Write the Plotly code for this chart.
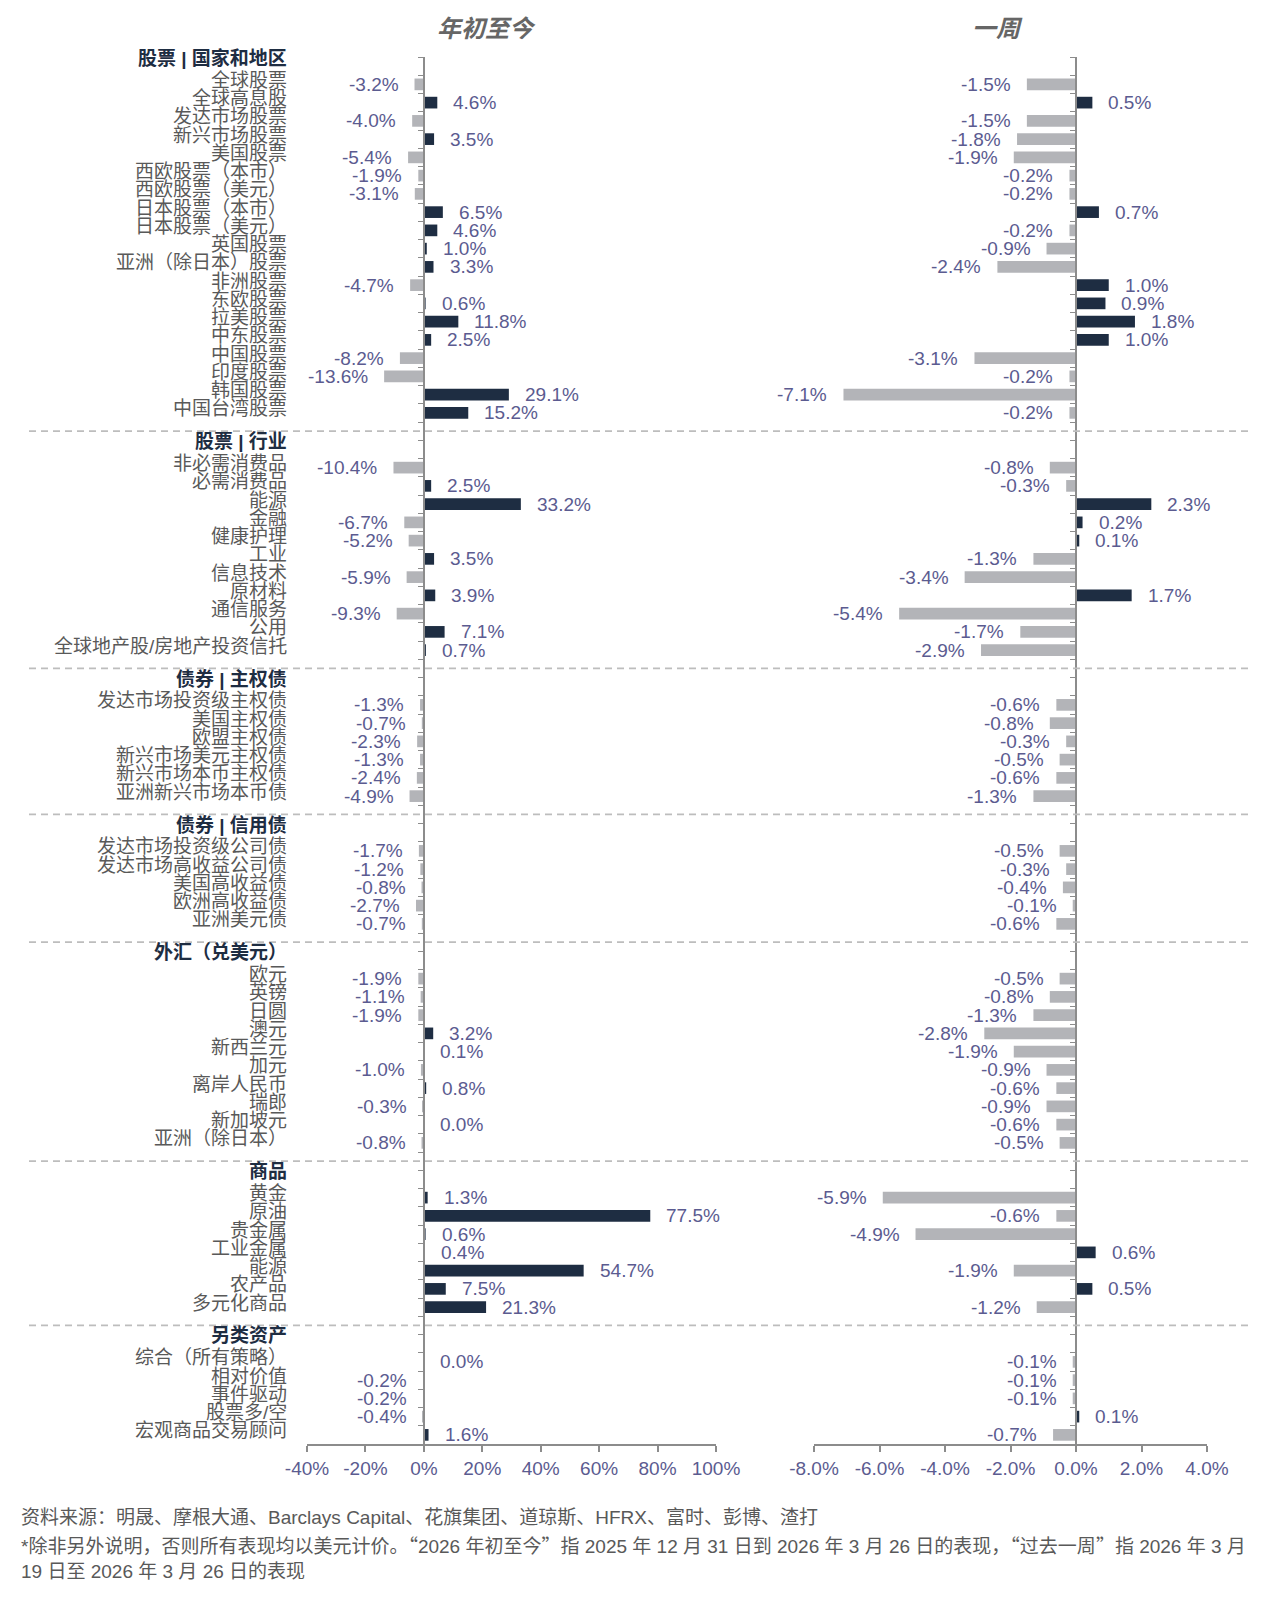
import plotly.graph_objects as go

# ---------------- data ----------------
headers = ["股票 | 国家和地区", "股票 | 行业", "债券 | 主权债", "债券 | 信用债",
           "外汇（兑美元）", "商品", "另类资产"]

eq_country = ["全球股票", "全球高息股", "发达市场股票", "新兴市场股票", "美国股票",
              "西欧股票（本市）", "西欧股票（美元）", "日本股票（本市）", "日本股票（美元）",
              "英国股票", "亚洲（除日本）股票", "非洲股票", "东欧股票", "拉美股票",
              "中东股票", "中国股票", "印度股票", "韩国股票", "中国台湾股票"]
eq_country_ytd = [-3.2, 4.6, -4.0, 3.5, -5.4, -1.9, -3.1, 6.5, 4.6, 1.0, 3.3, -4.7,
                  0.6, 11.8, 2.5, -8.2, -13.6, 29.1, 15.2]
eq_country_wk = [-1.5, 0.5, -1.5, -1.8, -1.9, -0.2, -0.2, 0.7, -0.2, -0.9, -2.4, 1.0,
                 0.9, 1.8, 1.0, -3.1, -0.2, -7.1, -0.2]

eq_sector = ["非必需消费品", "必需消费品", "能源", "金融", "健康护理", "工业", "信息技术",
             "原材料", "通信服务", "公用", "全球地产股/房地产投资信托"]
eq_sector_ytd = [-10.4, 2.5, 33.2, -6.7, -5.2, 3.5, -5.9, 3.9, -9.3, 7.1, 0.7]
eq_sector_wk = [-0.8, -0.3, 2.3, 0.2, 0.1, -1.3, -3.4, 1.7, -5.4, -1.7, -2.9]

bond_sov = ["发达市场投资级主权债", "美国主权债", "欧盟主权债", "新兴市场美元主权债",
            "新兴市场本币主权债", "亚洲新兴市场本币债"]
bond_sov_ytd = [-1.3, -0.7, -2.3, -1.3, -2.4, -4.9]
bond_sov_wk = [-0.6, -0.8, -0.3, -0.5, -0.6, -1.3]

bond_credit = ["发达市场投资级公司债", "发达市场高收益公司债", "美国高收益债",
               "欧洲高收益债", "亚洲美元债"]
bond_credit_ytd = [-1.7, -1.2, -0.8, -2.7, -0.7]
bond_credit_wk = [-0.5, -0.3, -0.4, -0.1, -0.6]

fx = ["欧元", "英镑", "日圆", "澳元", "新西兰元", "加元", "离岸人民币", "瑞郎",
      "新加坡元", "亚洲（除日本）"]
fx_ytd = [-1.9, -1.1, -1.9, 3.2, 0.1, -1.0, 0.8, -0.3, 0.0, -0.8]
fx_wk = [-0.5, -0.8, -1.3, -2.8, -1.9, -0.9, -0.6, -0.9, -0.6, -0.5]

commod = ["黄金", "原油", "贵金属", "工业金属", "能源", "农产品", "多元化商品"]
commod_ytd = [1.3, 77.5, 0.6, 0.4, 54.7, 7.5, 21.3]
commod_wk = [-5.9, -0.6, -4.9, 0.6, -1.9, 0.5, -1.2]

alts = ["综合（所有策略）", "相对价值", "事件驱动", "股票多/空", "宏观商品交易顾问"]
alts_ytd = [0.0, -0.2, -0.2, -0.4, 1.6]
alts_wk = [-0.1, -0.1, -0.1, 0.1, -0.7]

ytd_ticks = [-40, -20, 0, 20, 40, 60, 80, 100]
wk_ticks = [-8.0, -6.0, -4.0, -2.0, 0.0, 2.0, 4.0]

panel_titles = ["年初至今", "一周"]
source_text = "资料来源：明晟、摩根大通、Barclays Capital、花旗集团、道琼斯、HFRX、富时、彭博、渣打"
note_line1 = ("*除非另外说明，否则所有表现均以美元计价。“2026 年初至今”指 2025 年 12 月 31 日到 "
              "2026 年 3 月 26 日的表现，“过去一周”指 2026 年 3 月")
note_line2 = "19 日至 2026 年 3 月 26 日的表现"

# ---------------- build rows ----------------
groups = [
    (headers[0], eq_country, eq_country_ytd, eq_country_wk),
    (headers[1], eq_sector, eq_sector_ytd, eq_sector_wk),
    (headers[2], bond_sov, bond_sov_ytd, bond_sov_wk),
    (headers[3], bond_credit, bond_credit_ytd, bond_credit_wk),
    (headers[4], fx, fx_ytd, fx_wk),
    (headers[5], commod, commod_ytd, commod_wk),
    (headers[6], alts, alts_ytd, alts_wk),
]

rows = []
for gi, (h, labs, ytd, wk) in enumerate(groups):
    if gi > 0:
        rows.append(("blank", "", None, None))
    rows.append(("header", h, None, None))
    for lab, a, b in zip(labs, ytd, wk):
        rows.append(("item", lab, a, b))

n_rows = len(rows)
item_idx = [i for i, r in enumerate(rows) if r[0] == "item"]
item_ytd = [rows[i][2] for i in item_idx]
item_wk = [rows[i][3] for i in item_idx]

# ---------------- style ----------------
W, H = 1266, 1612
POS = "#1e2d42"
NEG = "#b3b4b8"
VAL = "#5b5b90"
LAB = "#595959"
HDR = "#1e2d42"
AX = "#8c8c8c"
FONT = "Liberation Sans, Arial, Noto Sans CJK SC, sans-serif"
CJK = "Noto Sans CJK SC"
FS = 19

ydom = [1 - 1444 / H, 1 - 57 / H]
xdom1 = [307 / W, 716 / W]
xdom2 = [814 / W, 1207 / W]
r1 = [-40, 100]
r2 = [-8, 4]


def zero_pos(dom, rng):
    return dom[0] + (0 - rng[0]) / (rng[1] - rng[0]) * (dom[1] - dom[0])


def cjk_quotes(s):
    for q in ("“", "”"):
        s = s.replace(q, f'<span style="font-family:{CJK}">{q}</span>')
    return s


fig = go.Figure()
fig.add_trace(go.Bar(
    y=item_idx, x=item_ytd, orientation="h",
    marker=dict(color=[POS if v >= 0 else NEG for v in item_ytd], line=dict(width=0)),
    xaxis="x", yaxis="y", hoverinfo="skip", showlegend=False))
fig.add_trace(go.Bar(
    y=item_idx, x=item_wk, orientation="h",
    marker=dict(color=[POS if v >= 0 else NEG for v in item_wk], line=dict(width=0)),
    xaxis="x2", yaxis="y2", hoverinfo="skip", showlegend=False))

yax = dict(domain=ydom, range=[n_rows - 0.5, -0.5], tickmode="linear", tick0=-0.5, dtick=1,
           ticks="outside", ticklen=5, tickcolor=AX, tickwidth=1.3, showticklabels=False,
           showline=True, linecolor=AX, linewidth=1.5, showgrid=False, zeroline=False,
           anchor="free")
xax = dict(showline=True, linecolor=AX, linewidth=2, ticks="outside", ticklen=6,
           tickcolor=AX, tickwidth=1.5, showgrid=False, zeroline=False,
           tickfont=dict(size=FS, color=VAL, family=FONT), tickmode="array")

fig.update_layout(
    width=W, height=H, autosize=False, margin=dict(l=0, r=0, t=0, b=0, autoexpand=False),
    paper_bgcolor="white", plot_bgcolor="white", bargap=0.36,
    font=dict(family=FONT, size=FS, color=LAB),
    xaxis=dict(xax, domain=xdom1, range=r1, anchor="y",
               tickvals=ytd_ticks, ticktext=[f"{v}%" for v in ytd_ticks]),
    xaxis2=dict(xax, domain=xdom2, range=r2, anchor="y2",
                tickvals=wk_ticks, ticktext=[f"{v:.1f}%" for v in wk_ticks]),
    yaxis=dict(yax, position=zero_pos(xdom1, r1)),
    yaxis2=dict(yax, position=zero_pos(xdom2, r2), matches="y"),
)

ann = []
# category labels
for i, (kind, lab, _, _) in enumerate(rows):
    if kind == "blank":
        continue
    is_h = kind == "header"
    ann.append(dict(
        x=289 / W, xref="paper", y=i, yref="y", xanchor="right", yanchor="middle",
        yshift=8 if is_h else 4, showarrow=False,
        text=f"<b>{lab}</b>" if is_h else lab,
        font=dict(size=FS, color=HDR if is_h else LAB, family=FONT)))

# value labels
for xr, yr, vals in (("x", "y", item_ytd), ("x2", "y2", item_wk)):
    for yi, v in zip(item_idx, vals):
        pos = v >= 0
        ann.append(dict(
            x=v, xref=xr, y=yi, yref=yr, showarrow=False,
            xanchor="left" if pos else "right", yanchor="middle",
            xshift=14 if pos else -14, text=f"{v:.1f}%",
            font=dict(size=FS, color=VAL, family=FONT)))

# panel titles
for t, cx in zip(panel_titles, (486 / W, 997 / W)):
    ann.append(dict(x=cx, xref="paper", y=1 - 29 / H, yref="paper", showarrow=False,
                    xanchor="center", yanchor="middle", text=f"<b><i>{t}</i></b>",
                    font=dict(size=24, color="#666666", family=FONT)))

# footer
for txt, yy in ((source_text, 1517), (cjk_quotes(note_line1), 1544), (note_line2, 1571)):
    ann.append(dict(x=19 / W, xref="paper", y=1 - yy / H, yref="paper", showarrow=False,
                    xanchor="left", yanchor="middle", text=txt,
                    font=dict(size=FS, color=LAB, family=FONT)))

fig.update_layout(annotations=ann)

# dashed separators at blank rows
shapes = []
for i, r in enumerate(rows):
    if r[0] == "blank":
        shapes.append(dict(type="line", xref="paper", x0=29 / W, x1=1250 / W,
                           yref="y", y0=i, y1=i,
                           line=dict(color="#bdbdbd", width=1.6, dash="7px,5px")))
fig.update_layout(shapes=shapes)

fig.write_html("out.html", config={"responsive": False, "displayModeBar": False},
               post_script="document.body.style.margin='0';")
